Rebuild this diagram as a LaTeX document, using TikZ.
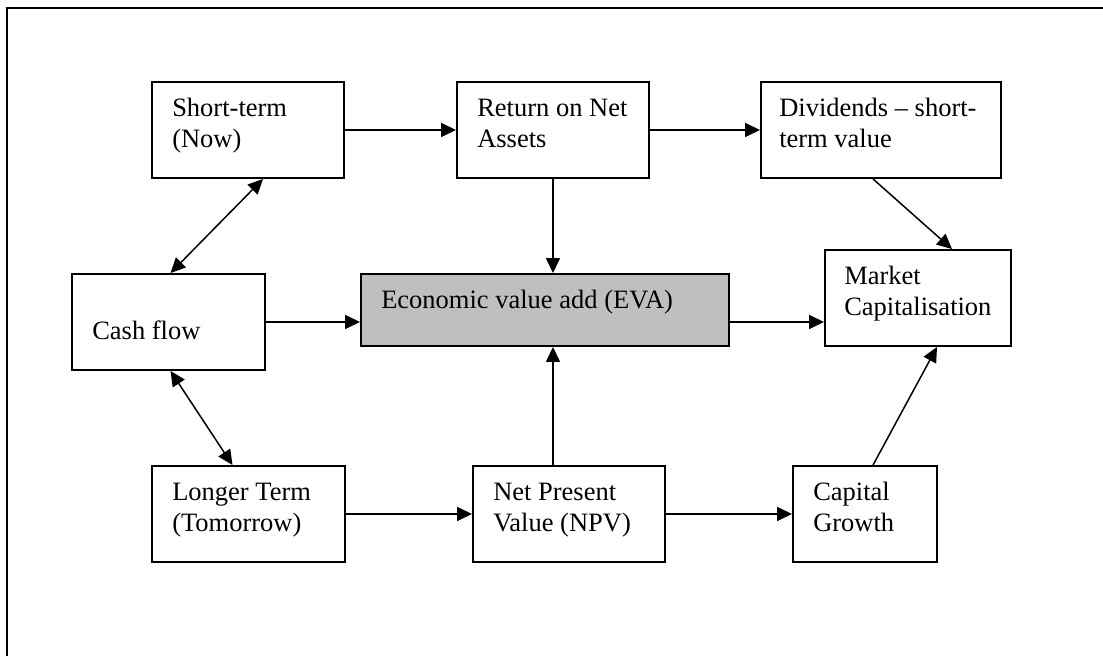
\documentclass[tikz,border=0pt]{standalone}
\usepackage{fontspec}
\setmainfont{Liberation Serif}
\usetikzlibrary{arrows.meta}
\newcommand{\topstrut}{\rule{0pt}{20pt}}
\begin{document}
\begin{tikzpicture}[x=1pt,y=-1pt,
  box/.style={draw, line width=1.9pt, inner sep=0pt, rectangle},
  evabox/.style={box, fill=black!25},
  txt/.style={inner sep=0pt, anchor=north west, align=left,
    font=\fontsize{26.5}{31}\selectfont},
  conn/.style={line width=1.5pt, -{Triangle[length=15pt,width=14pt]}},
  both/.style={line width=1.5pt, {Triangle[length=15pt,width=14pt]}-{Triangle[length=15pt,width=14pt]}}]
\useasboundingbox (0,0) rectangle (1103,656);
% frame (top and left edges)
\draw[line width=1.9pt] (7,656) -- (7,8) -- (1103,8);

% boxes
\node[box, minimum width=192pt, minimum height=96pt] (st)   at (248,130) {};
\node[box, minimum width=192pt, minimum height=96pt] (rona) at (553,130) {};
\node[box, minimum width=240pt, minimum height=96pt] (div)  at (881,130) {};
\node[box, minimum width=193pt, minimum height=96pt] (cf)   at (168.5,322) {};
\node[evabox, minimum width=368pt, minimum height=72pt] (eva) at (545,310) {};
\node[box, minimum width=186pt, minimum height=96pt] (mc)   at (918,298) {};
\node[box, minimum width=193pt, minimum height=96pt] (lt)   at (248.5,514) {};
\node[box, minimum width=192pt, minimum height=96pt] (npv)  at (569,514) {};
\node[box, minimum width=144pt, minimum height=96pt] (cg)   at (865,514) {};

% box texts
\node[txt] (st-t)   at ([xshift=21pt,yshift=-15pt]st.north west)   {\topstrut Short-term\\(Now)};
\node[txt] (rona-t) at ([xshift=21pt,yshift=-15pt]rona.north west) {\topstrut Return on Net\\Assets};
\node[txt] (div-t)  at ([xshift=19pt,yshift=-15pt]div.north west)  {\topstrut Dividends – short-\\term value};
\node[txt] (cf-t)   at ([xshift=21pt,yshift=-15pt]cf.north west)   {\topstrut\\Cash flow};
\node[txt] (eva-t)  at ([xshift=21pt,yshift=-15pt]eva.north west)  {\topstrut Economic value add (EVA)};
\node[txt] (mc-t)   at ([xshift=20pt,yshift=-15pt]mc.north west)   {\topstrut Market\\Capitalisation};
\node[txt] (lt-t)   at ([xshift=21pt,yshift=-15pt]lt.north west)   {\topstrut Longer Term\\(Tomorrow)};
\node[txt] (npv-t)  at ([xshift=21pt,yshift=-15pt]npv.north west)  {\topstrut Net Present\\Value (NPV)};
\node[txt] (cg-t)   at ([xshift=21pt,yshift=-15pt]cg.north west)   {\topstrut Capital\\Growth};

% connectors
\draw[conn] (st.east) -- (rona.west);
\draw[conn] (rona.east) -- (div.west);
\draw[conn] (rona.south) -- (rona.south |- eva.north);
\draw[conn] ([xshift=-8pt]div.south) -- ([xshift=34pt]mc.north);
\draw[both] ([xshift=15pt]st.south) -- ([xshift=2pt]cf.north);
\draw[both] ([xshift=2pt]cf.south) -- ([xshift=-16pt]lt.north);
\draw[conn] (cf.east) -- (cf.east -| eva.west);
\draw[conn] ([yshift=-12pt]eva.east) -- ([yshift=-12pt]eva.east -| mc.west);
\draw[conn] (lt.east) -- (npv.west);
\draw[conn] ([xshift=-16pt]npv.north) -- ([xshift=-16pt]npv.north |- eva.south);
\draw[conn] (npv.east) -- (cg.west);
\draw[conn] ([xshift=8pt]cg.north) -- ([xshift=19pt]mc.south);
\end{tikzpicture}
\end{document}
